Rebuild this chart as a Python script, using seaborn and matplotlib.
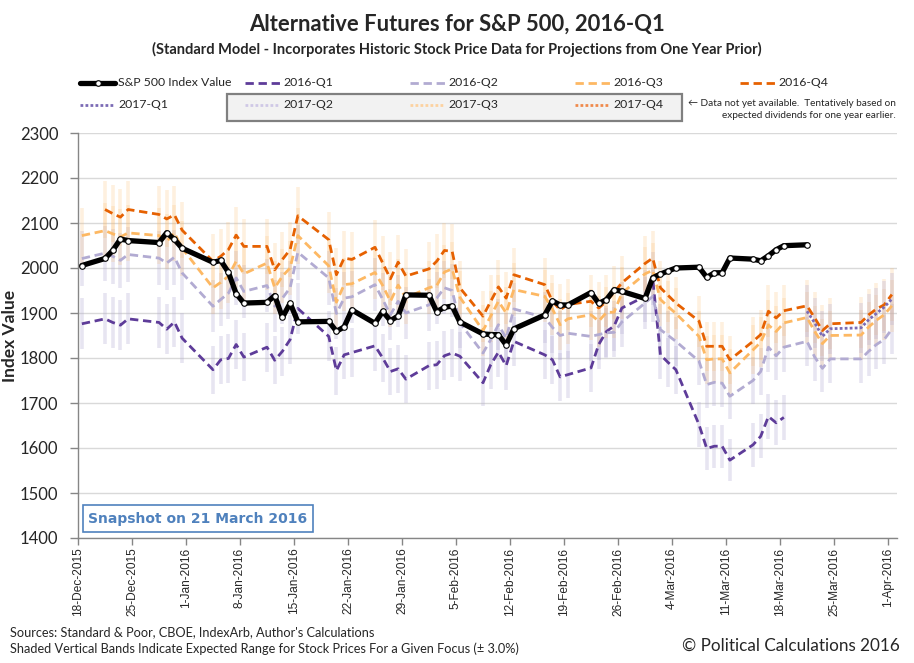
import numpy as np
import pandas as pd
import matplotlib
matplotlib.use("Agg")
import matplotlib.pyplot as plt
import matplotlib.dates as mdates
from matplotlib.lines import Line2D
from matplotlib.patches import Rectangle
import seaborn as sns

# trading days shown on the chart
past_dates = [
    "2015-12-18", "2015-12-21", "2015-12-22", "2015-12-23", "2015-12-24",
    "2015-12-28", "2015-12-29", "2015-12-30", "2015-12-31",
    "2016-01-04", "2016-01-05", "2016-01-06", "2016-01-07", "2016-01-08",
    "2016-01-11", "2016-01-12", "2016-01-13", "2016-01-14", "2016-01-15",
    "2016-01-19", "2016-01-20", "2016-01-21", "2016-01-22",
    "2016-01-25", "2016-01-26", "2016-01-27", "2016-01-28", "2016-01-29",
    "2016-02-01", "2016-02-02", "2016-02-03", "2016-02-04", "2016-02-05",
    "2016-02-08", "2016-02-09", "2016-02-10", "2016-02-11", "2016-02-12",
    "2016-02-16", "2016-02-17", "2016-02-18", "2016-02-19",
    "2016-02-22", "2016-02-23", "2016-02-24", "2016-02-25", "2016-02-26",
    "2016-02-29", "2016-03-01", "2016-03-02", "2016-03-03", "2016-03-04",
    "2016-03-07", "2016-03-08", "2016-03-09", "2016-03-10", "2016-03-11",
    "2016-03-14", "2016-03-15", "2016-03-16", "2016-03-17", "2016-03-18",
    "2016-03-21",
]
future_dates = [
    "2016-03-22", "2016-03-23", "2016-03-24", "2016-03-28",
    "2016-03-29", "2016-03-30", "2016-03-31", "2016-04-01",
]

sp500 = [
    2005.55, 2021.15, 2038.97, 2064.29, 2060.99, 2056.50, 2078.36, 2063.36, 2043.94,
    2012.66, 2016.71, 1990.26, 1943.09, 1922.03, 1923.67, 1938.68, 1890.28, 1921.84,
    1880.33, 1881.33, 1859.33, 1868.99, 1906.90, 1877.08, 1903.63, 1882.95, 1893.36,
    1940.24,
    1939.38, 1903.03, 1912.53, 1915.45, 1880.05, 1853.44, 1852.21, 1851.86, 1829.08,
    1864.78, 1895.58, 1926.82, 1917.83, 1917.78, 1945.50, 1921.27, 1929.80, 1951.70,
    1948.05, 1932.23,
    1978.35, 1986.45, 1993.40, 1999.99, 2001.76, 1979.26, 1989.26, 1989.57, 2022.19,
    2019.64, 2015.93, 2027.22, 2040.59, 2049.58, 2051.60,
]

# 2016-Q1 runs 18-Dec .. 18-Mar
q1_2016 = [
    1876, 1887, 1879, 1873, 1887, 1879, 1864, 1880, 1844,
    1774, 1796, 1799, 1830, 1802, 1824, 1795, 1815, 1841, 1910, 1848, 1772, 1807, 1812,
    1827, 1800, 1770, 1776, 1753,
    1783, 1785, 1805, 1811, 1804, 1745, 1785, 1813, 1783, 1837, 1807, 1796, 1758, 1763,
    1778, 1830, 1859, 1871, 1911, 1937,
    1976, 1807, 1790, 1774, 1652, 1599, 1604, 1604, 1573, 1607, 1626, 1670, 1656, 1668,
]
# 2016-Q2 and Q3 run 18-Dec .. 1-Apr
q2_2016 = [
    2021, 2033, 2026, 2017, 2030, 2022, 2011, 2024, 1989,
    1915, 1930, 1944, 1978, 1948, 1961, 1915, 1933, 1956, 2035, 1978, 1899, 1933, 1936,
    1963, 1930, 1896, 1926, 1900,
    1918, 1933, 1956, 1950, 1878, 1811, 1841, 1874, 1844, 1909, 1890, 1868, 1850, 1855,
    1848, 1852, 1856, 1857, 1880, 1922,
    1937, 1863, 1850, 1837, 1793, 1741, 1746, 1744, 1715, 1750, 1770, 1824, 1805, 1824,
    1837,
    1802, 1777, 1798, 1798, 1815, 1830, 1841, 1864,
]
q3_2016 = [
    2072, 2083, 2076, 2069, 2078, 2072, 2059, 2078, 2044,
    1956, 1968, 1982, 2015, 1987, 2011, 1956, 1982, 2000, 2072, 2005, 1924, 1963, 1965,
    1990, 1961, 1926, 1962, 1934,
    1956, 1961, 1991, 1998, 1935, 1861, 1893, 1926, 1900, 1952, 1937, 1909, 1874, 1887,
    1896, 1882, 1901, 1902, 1944, 1987,
    1995, 1930, 1914, 1899, 1848, 1796, 1798, 1798, 1767, 1818, 1835, 1873, 1859, 1878,
    1890,
    1859, 1832, 1850, 1851, 1869, 1884, 1896, 1916,
]
# 2016-Q4 runs 21-Dec .. 1-Apr
q4_2016 = [
    2130, 2121, 2113, 2130, 2119, 2109, 2118, 2084,
    2015, 2026, 2041, 2073, 2048, 2048, 1996, 2019, 2041, 2116, 2063, 1985, 2022, 2019,
    2046, 2011, 1976, 2013, 1982,
    1998, 2015, 2039, 2037, 1956, 1893, 1926, 1958, 1933, 1985, 1963, 1926, 1907, 1919,
    1926, 1911, 1926, 1946, 1967, 2010,
    2022, 1956, 1939, 1922, 1882, 1826, 1826, 1826, 1796, 1837, 1852, 1904, 1889, 1905,
    1916,
    1889, 1861, 1876, 1879, 1896, 1909, 1918, 1941,
]
# 2017-Q1 runs 21-Mar .. 1-Apr
q1_2017 = [1904, 1878, 1848, 1865, 1867, 1885, 1899, 1913, 1931]

band_pct = 0.03

tick_dates = pd.date_range("2015-12-18", "2016-04-01", freq="7D")

c_q1, c_q2, c_q3, c_q4 = "#5E3C99", "#B2ABD2", "#FDB863", "#E66101"
c_17q1, c_17q2, c_17q3, c_17q4 = "#7B6BB5", "#CFC8E6", "#FDD2A0", "#F08A4B"

W, H = 914, 663


def fx(px):
    return px / W


def fy(py):
    return 1 - py / H


sns.set_theme(style="white")
plt.rcParams["font.family"] = ["Lato", "DejaVu Sans"]

all_dates = pd.to_datetime(past_dates + future_dates)
# Excel date axis puts each point in the middle of its day
xpos = all_dates + pd.Timedelta(hours=12)

fig = plt.figure(figsize=(W / 100, H / 100), dpi=100)
ax = fig.add_axes([fx(78), fy(538), fx(897 - 78), (538 - 133) / H])

series = [
    ("2016-Q1", q1_2016, xpos[:62], c_q1, c_q2, (0, (3, 1.7))),
    ("2016-Q2", q2_2016, xpos[:71], c_q2, c_q2, (0, (3, 1.7))),
    ("2016-Q3", q3_2016, xpos[:71], c_q3, c_q3, (0, (3, 1.7))),
    ("2016-Q4", q4_2016, xpos[1:71], c_q4, c_q3, (0, (3, 1.7))),
    ("2017-Q1", q1_2017, xpos[62:71], c_17q1, c_q2, (0, (1, 0.8))),
]

# shaded +/- 3% bands
for name, vals, xs, col, bcol, ls in series:
    v = np.array(vals, dtype=float)
    alpha = 0.2 if bcol == c_q3 else 0.3
    ax.vlines(mdates.date2num(xs), v * (1 - band_pct), v * (1 + band_pct),
              colors=bcol, lw=2.6, alpha=alpha, zorder=1)

for name, vals, xs, col, bcol, ls in series:
    d = pd.DataFrame({"date": xs, "value": vals})
    sns.lineplot(data=d, x="date", y="value", ax=ax, color=col, lw=2,
                 linestyle=ls, estimator=None, sort=False, zorder=3)

sp = pd.DataFrame({"date": xpos[:63], "value": sp500})
sns.lineplot(data=sp, x="date", y="value", ax=ax, color="black", lw=3.8,
             marker="o", markersize=4, markerfacecolor="white",
             markeredgecolor="black", markeredgewidth=0.8,
             estimator=None, sort=False, zorder=5)

ax.set_ylim(1400, 2300)
ax.set_yticks(np.arange(1400, 2301, 100))
ax.set_xlim(pd.Timestamp("2015-12-18"), pd.Timestamp("2016-04-02 04:00"))
ax.set_xticks(tick_dates)
ax.set_xticklabels([f"{d.day}-{d.strftime('%b-%Y')}" for d in tick_dates],
                   rotation=90, fontsize=8.6, family=["Liberation Sans", "DejaVu Sans"])
ax.tick_params(axis="x", length=5, width=1, color="#868686", pad=2, bottom=True)
ax.tick_params(axis="y", length=6, width=1, color="#868686", pad=8, left=True,
               labelsize=12)
ax.grid(axis="y", color="#D9D9D9", lw=1)
ax.grid(axis="x", visible=False)
for s in ["top", "right"]:
    ax.spines[s].set_visible(False)
for s in ["left", "bottom"]:
    ax.spines[s].set_color("#868686")
    ax.spines[s].set_linewidth(1)
ax.set_xlabel("")
ax.set_ylabel("Index Value", fontsize=12.5, fontweight="bold")
ax.yaxis.set_label_coords((18 - 78) / 819, 0.5)

# titles
fig.text(0.5, fy(24), "Alternative Futures for S&P 500, 2016-Q1",
         ha="center", va="center", fontsize=15.8, fontweight="bold")
fig.text(0.5, fy(49),
         "(Standard Model - Incorporates Historic Stock Price Data for Projections from One Year Prior)",
         ha="center", va="center", fontsize=10.5, fontweight="bold")

# legend
fig.add_artist(Rectangle((fx(227), fy(121)), fx(682 - 227), (121 - 94) / H,
                         transform=fig.transFigure, fc="#F2F2F2", ec="#808080", lw=1.6))
legend_items = [
    ("S&P 500 Index Value", 80, 83, "black", "-", 3.8),
    ("2016-Q1", 245, 83, c_q1, (0, (3, 1.7)), 2),
    ("2016-Q2", 410, 83, c_q2, (0, (3, 1.7)), 2),
    ("2016-Q3", 575, 83, c_q3, (0, (3, 1.7)), 2),
    ("2016-Q4", 740, 83, c_q4, (0, (3, 1.7)), 2),
    ("2017-Q1", 80, 105, c_17q1, (0, (1, 0.8)), 2),
    ("2017-Q2", 245, 105, c_17q2, (0, (1, 0.8)), 2),
    ("2017-Q3", 410, 105, c_17q3, (0, (1, 0.8)), 2),
    ("2017-Q4", 575, 105, c_17q4, (0, (1, 0.8)), 2),
]
for label, x0, y0, col, ls, lw in legend_items:
    fig.add_artist(Line2D([fx(x0), fx(x0 + 35)], [fy(y0), fy(y0)], color=col,
                          ls=ls, lw=lw, transform=fig.transFigure))
    if label.startswith("S&P"):
        fig.add_artist(Line2D([fx(x0 + 17.5)], [fy(y0)], marker="o", markersize=4,
                              markerfacecolor="white", markeredgecolor="black",
                              markeredgewidth=0.8, transform=fig.transFigure))
    fig.text(fx(x0 + 38), fy(y0), label, ha="left", va="center", fontsize=8.8)

fig.text(fx(896), fy(103), "\u2190 Data not yet available.  Tentatively based on",
         ha="right", va="center", fontsize=7.2)
fig.text(fx(896), fy(116), "expected dividends for one year earlier.",
         ha="right", va="center", fontsize=7.2)

# snapshot box
fig.add_artist(Rectangle((fx(83), fy(532)), fx(313 - 83), (532 - 505) / H,
                         transform=fig.transFigure, fc="white", ec="#4F81BD", lw=1.2))
fig.text(fx(198), fy(518.5), "Snapshot on 21 March 2016", ha="center", va="center",
         fontsize=10, fontweight="bold", color="#4F81BD", family="DejaVu Sans")

# footer
fig.text(fx(10), fy(632), "Sources: Standard & Poor, CBOE, IndexArb, Author's Calculations",
         ha="left", va="center", fontsize=9.2)
fig.text(fx(10), fy(649),
         "Shaded Vertical Bands Indicate Expected Range for Stock Prices For a Given Focus (\u00b1 3.0%)",
         ha="left", va="center", fontsize=9.2)
fig.text(fx(900), fy(646), "\u00a9 Political Calculations 2016", ha="right", va="center",
         fontsize=12.3)

fig.savefig("out.png", dpi=100)
